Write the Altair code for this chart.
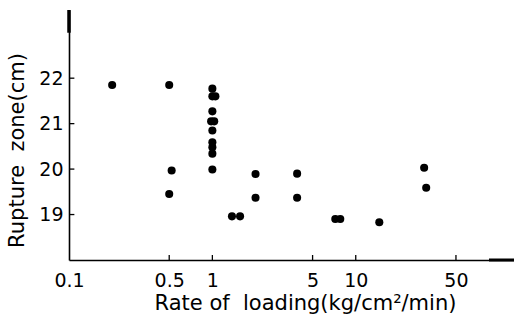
import altair as alt
import pandas as pd

# Data
rate = [0.2, 0.5, 0.52, 0.5,
        1.0, 1.0, 1.05, 1.0, 0.98, 1.03, 1.0, 1.0, 1.0, 1.0, 1.0,
        1.37, 1.56, 2.0, 2.0, 3.9, 3.9, 7.2, 7.8, 14.6, 30.0, 31.0]
zone = [21.85, 21.85, 19.97, 19.45,
        21.77, 21.6, 21.6, 21.27, 21.05, 21.05, 20.85, 20.59, 20.48, 20.34, 19.99,
        18.96, 18.96, 19.89, 19.37, 19.9, 19.37, 18.9, 18.9, 18.83, 20.03, 19.59]

x_ticks = [0.1, 0.5, 1, 5, 10, 50]
y_ticks = [19, 20, 21, 22]
x_dom = [0.1, 127]
y_dom = [18, 23.5]

FONT = "DejaVu Sans"

df = pd.DataFrame({"rate": rate, "zone": zone})

xs = alt.Scale(type="log", domain=x_dom, nice=False, clamp=False)
ys = alt.Scale(domain=y_dom, nice=False, zero=False)

base = alt.Chart(df)

points = base.mark_circle(size=65, color="black", opacity=1).encode(
    x=alt.X("rate:Q", scale=xs,
            axis=alt.Axis(values=x_ticks, format="~g", ticks=False, grid=False,
                          domainColor="black", domainWidth=1.6,
                          labelFont=FONT, labelFontSize=19, labelColor="black",
                          labelPadding=11, labelFlush=False,
                          title="Rate of\u00a0 loading(kg/cm²/min)",
                          titleFont=FONT, titleFontSize=21, titleFontWeight="normal",
                          titleColor="black", titleX=236, titleY=43,
                          titleAlign="center", titleBaseline="middle")),
    y=alt.Y("zone:Q", scale=ys,
            axis=alt.Axis(values=y_ticks, ticks=False, grid=False,
                          domainColor="black", domainWidth=1.6,
                          labelFont=FONT, labelFontSize=19, labelColor="black",
                          labelPadding=6,
                          title="Rupture\u00a0 zone(cm)",
                          titleFont=FONT, titleFontSize=21, titleFontWeight="normal",
                          titleColor="black", titleX=-52, titleY=140,
                          titleAlign="center", titleBaseline="middle", titleAngle=270)),
)

# inward tick marks
xt = pd.DataFrame({"v": x_ticks[1:], "a": [18.0] * 5, "b": [18.11] * 5})
xtick = alt.Chart(xt).mark_rule(color="black", strokeWidth=1.3).encode(
    x=alt.X("v:Q", scale=xs), y=alt.Y("a:Q", scale=ys), y2="b:Q")
yt = pd.DataFrame({"v": y_ticks, "a": [0.1] * 4, "b": [0.109] * 4})
ytick = alt.Chart(yt).mark_rule(color="black", strokeWidth=1.3).encode(
    y=alt.Y("v:Q", scale=ys), x=alt.X("a:Q", scale=xs), x2="b:Q")

# axis arrows
ya = pd.DataFrame({"x": [0.1], "a": [23.0], "b": [23.5]})
yarrow = alt.Chart(ya).mark_rule(color="black", strokeWidth=3.5).encode(
    x=alt.X("x:Q", scale=xs), y=alt.Y("a:Q", scale=ys), y2="b:Q")
xa = pd.DataFrame({"y": [18.0], "a": [85.0], "b": [127.0]})
xarrow = alt.Chart(xa).mark_rule(color="black", strokeWidth=3.0).encode(
    y=alt.Y("y:Q", scale=ys), x=alt.X("a:Q", scale=xs), x2="b:Q")

chart = alt.layer(points, xtick, ytick, yarrow, xarrow).properties(
    width=445, height=250,
    autosize=alt.AutoSizeParams(type="none"),
    padding={"left": 69, "top": 10, "right": 0, "bottom": 60},
    background="white",
).configure_view(stroke=None)

chart.save("out.html", embed_options={"renderer": "svg", "actions": False})
